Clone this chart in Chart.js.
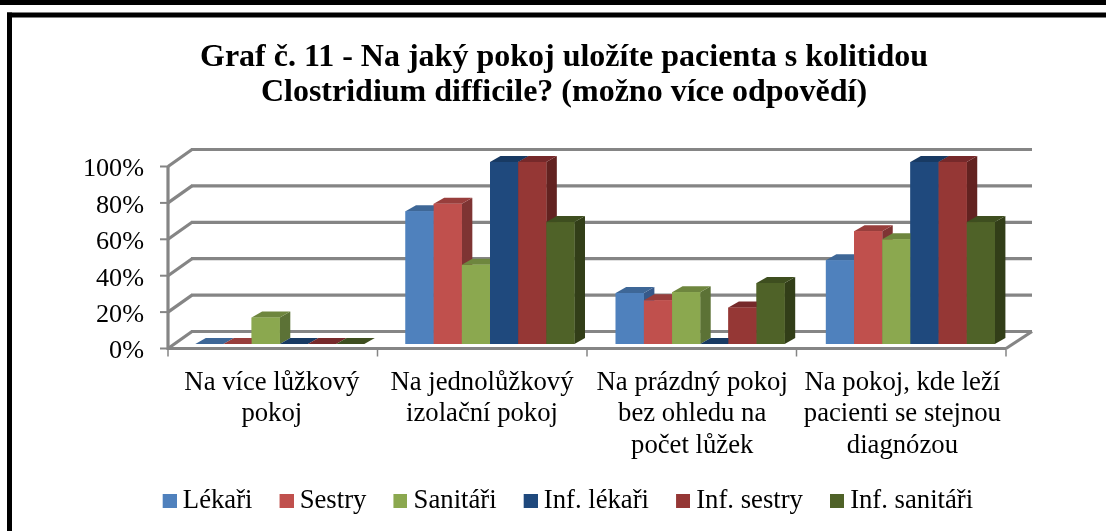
<!DOCTYPE html>
<html>
<head>
<meta charset="utf-8">
<style>html,body{margin:0;padding:0;background:#fff}canvas{display:block;filter:blur(0.45px)}</style>
<script src="https://cdn.jsdelivr.net/npm/chart.js@4"></script>
</head>
<body>
<canvas id="c" width="1106" height="531"></canvas>
<script>
const titleLines = ["Graf č. 11 - Na jaký pokoj uložíte pacienta s kolitidou", "Clostridium difficile? (možno více odpovědí)"];
const categories = [
  ["Na více lůžkový", "pokoj"],
  ["Na jednolůžkový", "izolační pokoj"],
  ["Na prázdný pokoj", "bez ohledu na", "počet lůžek"],
  ["Na pokoj, kde leží", "pacienti se stejnou", "diagnózou"]
];
const lekari = [0, 73, 28, 46];
const sestry = [0, 77, 24, 62];
const sanitari = [14.5, 43.5, 28.5, 57.5];
const infLekari = [0, 100, 0, 100];
const infSestry = [0, 100, 20, 100];
const infSanitari = [0, 67, 33.5, 67];
const seriesNames = ["Lékaři", "Sestry", "Sanitáři", "Inf. lékaři", "Inf. sestry", "Inf. sanitáři"];
const seriesValues = [lekari, sestry, sanitari, infLekari, infSestry, infSanitari];
const frontColors = ["#4F81BD", "#C0504D", "#8BA84F", "#1F497D", "#953735", "#4F6228"];
const topColors = ["#3E6797", "#983E3C", "#6E863E", "#183A63", "#76292A", "#3E4E1F"];
const sideColors = ["#36598A", "#7E3433", "#5C7236", "#143052", "#622220", "#323E18"];

const SERIF = "'Liberation Serif'";
Chart.defaults.font.family = SERIF;
Chart.defaults.color = "#000";

const F = {left: 168, right: 1006, backLeft: 192, backRight: 1032, frontDy: 4.5, backDy: -12.5, depthX: 10.5, depthY: 6};

function poly(ctx, pts, color) {
  ctx.fillStyle = color;
  ctx.beginPath();
  pts.forEach((p, i) => i ? ctx.lineTo(p[0], p[1]) : ctx.moveTo(p[0], p[1]));
  ctx.closePath();
  ctx.fill();
}
function line(ctx, x0, y0, x1, y1) {
  ctx.beginPath(); ctx.moveTo(x0, y0); ctx.lineTo(x1, y1); ctx.stroke();
}

const scene = {
  id: "scene",
  afterLayout(chart) {
    chart.titleBlock.left = 0; chart.titleBlock.right = 1128;
    chart.legend.left = 0; chart.legend.right = 1136;
    chart.legend.top = 460.5;
  },
  beforeDraw(chart) {
    const c = chart.ctx;
    c.save();
    c.fillStyle = "#fff"; c.fillRect(0, 0, 1106, 531);
    c.fillStyle = "#000";
    c.fillRect(0, 0, 1106, 5);
    c.fillRect(7, 12.5, 1099, 5);
    c.fillRect(7, 12.5, 5, 519);
    c.restore();
  },
  beforeDatasetsDraw(chart) {
    const c = chart.ctx, ys = chart.scales.y;
    c.save();
    c.strokeStyle = "#858585"; c.lineWidth = 3.2; c.lineCap = "butt";
    ys.ticks.forEach(t => {
      const y = ys.getPixelForValue(t.value);
      const fy = y + F.frontDy, by = y + F.backDy;
      c.lineWidth = 2;
      line(c, F.left - 8, fy, F.left, fy);
      c.lineWidth = 3.2;
      line(c, F.left, fy, F.backLeft, by);
      line(c, F.backLeft - 1, by, F.backRight, by);
    });
    const y0 = ys.getPixelForValue(0), y100 = ys.getPixelForValue(100);
    line(c, F.left, y100 + F.frontDy, F.left, y0 + F.frontDy + 1.5);
    line(c, F.left, y0 + F.frontDy, F.right, y0 + F.frontDy);
    line(c, F.right, y0 + F.frontDy, F.backRight, y0 + F.backDy);
    c.lineWidth = 1.5;
    for (let i = 0; i <= categories.length; i++) {
      const x = F.left + (F.right - F.left) * i / categories.length;
      line(c, x, y0 + F.frontDy, x, y0 + F.frontDy + 8);
    }
    c.restore();
  },
  afterDatasetsDraw(chart) {
    const c = chart.ctx, dx = F.depthX, dy = F.depthY;
    c.save();
    seriesValues.forEach((vals, i) => {
      chart.getDatasetMeta(i).data.forEach(el => {
        const p = el.getProps(["x", "y", "base", "width"], true);
        const l = p.x - p.width / 2, r = p.x + p.width / 2;
        poly(c, [[r, p.y], [r + dx, p.y - dy], [r + dx, p.base - dy], [r, p.base]], sideColors[i]);
        poly(c, [[l, p.y], [l + dx, p.y - dy], [r + dx, p.y - dy], [r, p.y]], topColors[i]);
        c.fillStyle = frontColors[i];
        c.fillRect(l, p.y, p.width, p.base - p.y);
      });
    });
    c.restore();
  }
};

function swatch(color) {
  const s = document.createElement("canvas");
  s.width = 21; s.height = 14;
  const g = s.getContext("2d");
  g.fillStyle = color; g.fillRect(7, 0, 14, 14);
  return s;
}

new Chart(document.getElementById("c"), {
  type: "bar",
  data: {
    labels: categories,
    datasets: seriesNames.map((n, i) => ({
      label: n, data: seriesValues[i], backgroundColor: frontColors[i],
      borderWidth: 0, barPercentage: 1, categoryPercentage: 0.804
    }))
  },
  plugins: [scene],
  options: {
    responsive: false,
    animation: false,
    layout: {padding: {left: 0, right: 90.5, top: 0, bottom: 0}},
    plugins: {
      tooltip: {enabled: false},
      title: {
        display: true, text: titleLines, color: "#000",
        font: {family: SERIF, size: 32, weight: "bold", lineHeight: 35 / 32},
        padding: {top: 40.5, bottom: 51.5}
      },
      legend: {
        position: "bottom",
        labels: {
          usePointStyle: true, pointStyleWidth: 6.65, padding: 27.2, color: "#000",
          font: {family: SERIF, size: 26.7},
          generateLabels(chart) {
            return Chart.defaults.plugins.legend.labels.generateLabels(chart).map((it, i) => {
              it.pointStyle = swatch(frontColors[i]);
              return it;
            });
          }
        }
      }
    },
    scales: {
      x: {
        grid: {display: false}, border: {display: false},
        afterFit(s) { s.height = 123.1; },
        ticks: {
          autoSkip: false, maxRotation: 0, minRotation: 0, padding: 15, labelOffset: -8, color: "#000",
          font: {family: SERIF, size: 26.7, lineHeight: 31.5 / 26.7}
        }
      },
      y: {
        min: 0, max: 100,
        grid: {display: false, drawTicks: false}, border: {display: false},
        afterFit(s) { s.width = 174.7; },
        ticks: {
          stepSize: 20, padding: 30.7, labelOffset: 7.5, color: "#000",
          font: {family: SERIF, size: 26.2},
          callback: v => v + "%"
        }
      }
    }
  }
});
</script>
</body>
</html>
